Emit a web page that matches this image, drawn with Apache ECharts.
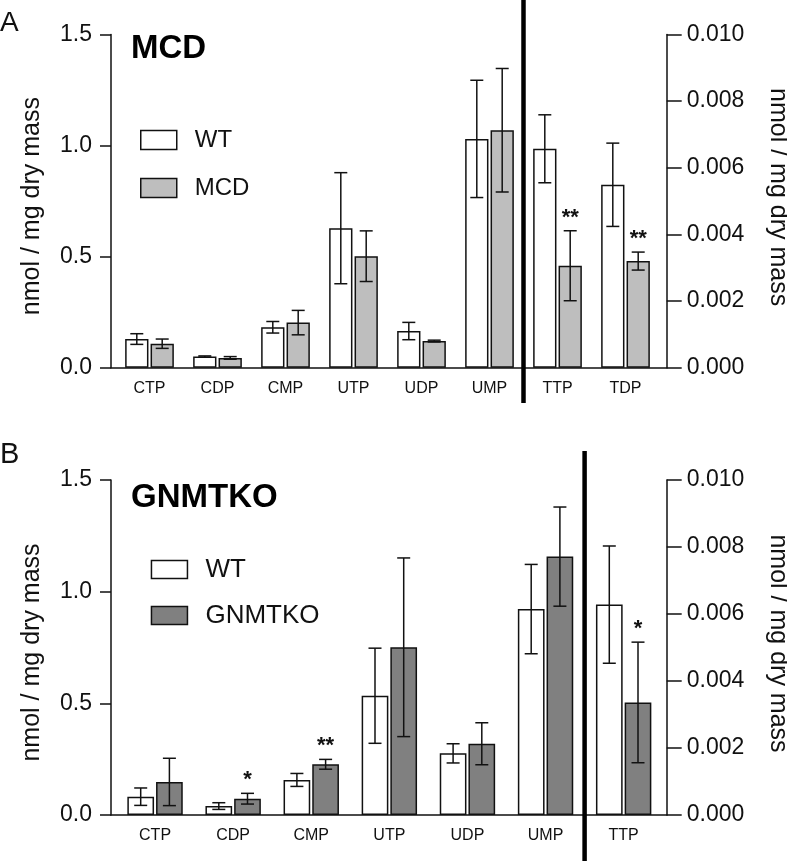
<!DOCTYPE html>
<html>
<head>
<meta charset="utf-8">
<script src="https://cdn.jsdelivr.net/npm/echarts@6/dist/echarts.min.js"></script>
<style>
  html, body { margin: 0; padding: 0; background: #fff; }
  #chart { width: 787px; height: 861px; }
</style>
</head>
<body>
<div id="chart"></div>
<script>
// panel A: WT vs MCD
const catsA = ['CTP', 'CDP', 'CMP', 'UTP', 'UDP', 'UMP', 'TTP', 'TDP'];
const wtA = [0.129, 0.050, 0.182, 0.628, 0.165, 1.030, 0.00657, 0.00549];
const wtErrA = [0.024, 0.003, 0.026, 0.250, 0.039, 0.264, 0.00102, 0.00125];
const mcdA = [0.108, 0.044, 0.203, 0.502, 0.120, 1.069, 0.00306, 0.00320];
const mcdErrA = [0.021, 0.006, 0.055, 0.114, 0.004, 0.278, 0.00105, 0.00027];
const sigA = ['', '', '', '', '', '', '**', '**'];
const rightFromA = 6; // TTP, TDP read on right axis

// panel B: WT vs GNMTKO
const catsB = ['CTP', 'CDP', 'CMP', 'UTP', 'UDP', 'UMP', 'TTP'];
const wtB = [0.082, 0.040, 0.157, 0.534, 0.276, 0.922, 0.00628];
const wtErrB = [0.039, 0.015, 0.029, 0.213, 0.043, 0.200, 0.00175];
const koB = [0.148, 0.073, 0.227, 0.751, 0.319, 1.157, 0.00336];
const koErrB = [0.106, 0.024, 0.022, 0.400, 0.094, 0.222, 0.00180];
const sigB = ['', '*', '**', '', '', '', '*'];
const rightFromB = 6;

const leftTicks = [0, 1.5, 0.5];
const rightTicks = [0, 0.010, 0.002];
const yName = 'nmol / mg dry mass';

const panels = [
  {
    cats: catsA, wt: wtA, wtErr: wtErrA, ko: mcdA, koErr: mcdErrA, sig: sigA, split: rightFromA,
    koName: 'MCD', koColor: '#bebebe', letter: 'A',
    frame: { left: 111, width: 555.7, top: 34.5, height: 333.2 },
    bars: { left: 115.5, width: 544 },
    barW: 23.3, barGap: 9,
    legend: { left: 140, top: 128, itemHeight: 19, itemGap: 24, fontSize: 24 },
    title: { left: 131, top: 32 }, letterTop: 9, letterSize: 28,
    sep: [0, 403]
  },
  {
    cats: catsB, wt: wtB, wtErr: wtErrB, ko: koB, koErr: koErrB, sig: sigB, split: rightFromB,
    koName: 'GNMTKO', koColor: '#808080', letter: 'B',
    frame: { left: 111, width: 555.7, top: 480, height: 335 },
    bars: { left: 116, width: 546.7 },
    barW: 26.7, barGap: 7.5,
    legend: { left: 150.7, top: 556.5, itemHeight: 18, itemGap: 20, fontSize: 26 },
    title: { left: 131, top: 481 }, letterTop: 440, letterSize: 29,
    sep: [451, 861]
  }
];

const ink = '#111';
const grid = [], xAxis = [], yAxis = [], series = [], title = [], legend = [];

function errorRender(items, barW, gapPct) {
  return function (params, api) {
    const it = items[params.dataIndex];
    const off = (it.side ? 1 : -1) * (barW + barW * gapPct / 100) / 2;
    const x = api.coord([it.i, it.v])[0] + off;
    const yTop = api.coord([it.i, it.v + it.e])[1];
    const yBot = api.coord([it.i, it.v - it.e])[1];
    const cap = 6.5;
    const st = { stroke: ink, lineWidth: 1.5 };
    const children = [
      { type: 'line', shape: { x1: x, y1: yTop, x2: x, y2: yBot }, style: st },
      { type: 'line', shape: { x1: x - cap, y1: yTop, x2: x + cap, y2: yTop }, style: st },
      { type: 'line', shape: { x1: x - cap, y1: yBot, x2: x + cap, y2: yBot }, style: st }
    ];
    if (it.sig) {
      children.push({
        type: 'text',
        style: {
          text: it.sig, x: x, y: yTop - 13, align: 'center', verticalAlign: 'middle',
          fontSize: 22, fontWeight: 'bold', fill: ink, fontFamily: 'Liberation Sans'
        }
      });
    }
    return { type: 'group', children: children };
  };
}

panels.forEach(function (p) {
  const gFrame = grid.length;
  grid.push({ left: p.frame.left, width: p.frame.width, top: p.frame.top, height: p.frame.height,
    outerBoundsMode: 'none', containLabel: false });
  const gBars = grid.length;
  grid.push({ left: p.bars.left, width: p.bars.width, top: p.frame.top, height: p.frame.height,
    outerBoundsMode: 'none', containLabel: false });

  // frame axes
  xAxis.push({
    gridIndex: gFrame, type: 'value', min: 0, max: 1,
    axisLine: { show: true, lineStyle: { color: ink, width: 1.5 } },
    axisTick: { show: false }, axisLabel: { show: false }, splitLine: { show: false }
  });
  yAxis.push({
    gridIndex: gFrame, type: 'value', position: 'left',
    min: leftTicks[0], max: leftTicks[1], interval: leftTicks[2],
    name: yName, nameLocation: 'middle', nameRotate: 90, nameGap: 66,
    nameTextStyle: { fontSize: 25, color: ink, padding: [0, 10, 0, 0] },
    axisLine: { show: true, lineStyle: { color: ink, width: 1.5 } },
    axisTick: { show: true, length: 11, lineStyle: { color: ink, width: 1.5 } },
    axisLabel: { margin: 19, fontSize: 23, color: ink, formatter: function (v) { return v.toFixed(1); } },
    splitLine: { show: false }
  });
  yAxis.push({
    gridIndex: gFrame, type: 'value', position: 'right',
    min: rightTicks[0], max: rightTicks[1], interval: rightTicks[2],
    name: yName, nameLocation: 'middle', nameRotate: -90, nameGap: 99,
    nameTextStyle: { fontSize: 25, color: ink, padding: [0, 8, 0, 0] },
    axisLine: { show: true, lineStyle: { color: ink, width: 1.5 } },
    axisTick: { show: true, length: 15, lineStyle: { color: ink, width: 1.5 } },
    axisLabel: { margin: 20, fontSize: 23, color: ink, formatter: function (v) { return v.toFixed(3); } },
    splitLine: { show: false }
  });

  // bar axes
  const xL = xAxis.length;
  xAxis.push({
    gridIndex: gBars, type: 'category', data: p.cats,
    axisLine: { show: false }, axisTick: { show: false },
    axisLabel: { margin: 13, fontSize: 16, color: ink }
  });
  const xR = xAxis.length;
  xAxis.push({ gridIndex: gBars, type: 'category', data: p.cats, show: false });
  const yL = yAxis.length;
  yAxis.push({ gridIndex: gBars, type: 'value', position: 'left', min: leftTicks[0], max: leftTicks[1], show: false });
  const yR = yAxis.length;
  yAxis.push({ gridIndex: gBars, type: 'value', position: 'right', min: rightTicks[0], max: rightTicks[1], show: false });

  const pick = function (arr, right) {
    return arr.map(function (v, i) { return (i >= p.split) === right ? v : '-'; });
  };
  const barBase = { type: 'bar', barWidth: p.barW, barGap: p.barGap + '%' };
  const wtStyle = { color: '#ffffff', borderColor: ink, borderWidth: 1.5 };
  const koStyle = { color: p.koColor, borderColor: ink, borderWidth: 1.5 };
  series.push(Object.assign({ name: 'WT', xAxisIndex: xL, yAxisIndex: yL, data: pick(p.wt, false), itemStyle: wtStyle }, barBase));
  series.push(Object.assign({ name: p.koName, xAxisIndex: xL, yAxisIndex: yL, data: pick(p.ko, false), itemStyle: koStyle }, barBase));
  series.push(Object.assign({ name: 'WT', xAxisIndex: xR, yAxisIndex: yR, data: pick(p.wt, true), itemStyle: wtStyle }, barBase));
  series.push(Object.assign({ name: p.koName, xAxisIndex: xR, yAxisIndex: yR, data: pick(p.ko, true), itemStyle: koStyle }, barBase));

  [false, true].forEach(function (right) {
    const items = [];
    p.cats.forEach(function (c, i) {
      if ((i >= p.split) !== right) return;
      items.push({ i: i, v: p.wt[i], e: p.wtErr[i], side: 0, sig: '' });
      items.push({ i: i, v: p.ko[i], e: p.koErr[i], side: 1, sig: p.sig[i] });
    });
    series.push({
      type: 'custom', xAxisIndex: right ? xR : xL, yAxisIndex: right ? yR : yL,
      data: items.map(function (it) { return [it.i, it.v]; }),
      renderItem: errorRender(items, p.barW, p.barGap), silent: true, z: 5
    });
  });

  // thick divider between left-axis and right-axis groups
  series.push({
    type: 'custom', xAxisIndex: xL, yAxisIndex: yL, data: [[p.split, 0]], silent: true, z: 6,
    renderItem: function (params, api) {
      const x = (api.coord([p.split - 1, 0])[0] + api.coord([p.split, 0])[0]) / 2;
      return { type: 'line', shape: { x1: x, y1: p.sep[0], x2: x, y2: p.sep[1] },
               style: { stroke: '#000', lineWidth: 4.5 } };
    }
  });

  title.push({ text: p.letter, left: 0, top: p.letterTop, padding: 0,
    textStyle: { fontSize: p.letterSize, fontWeight: 'normal', color: ink } });
  title.push({ text: p.koName, left: p.title.left, top: p.title.top, padding: 0,
    textStyle: { fontSize: 33, fontWeight: 'bold', color: '#000' } });

  legend.push({
    data: ['WT', p.koName], orient: 'vertical', left: p.legend.left, top: p.legend.top,
    padding: 0, icon: 'rect', itemWidth: 36, itemHeight: p.legend.itemHeight, itemGap: p.legend.itemGap,
    selectedMode: false,
    itemStyle: { borderColor: ink, borderWidth: 1.5 },
    textStyle: { fontSize: p.legend.fontSize, color: ink, padding: [0, 0, 0, 13] }
  });
});

const chart = echarts.init(document.getElementById('chart'));
chart.setOption({
  animation: false,
  backgroundColor: '#fff',
  textStyle: { fontFamily: 'Liberation Sans' },
  title: title, legend: legend, grid: grid, xAxis: xAxis, yAxis: yAxis, series: series
});
</script>
</body>
</html>
